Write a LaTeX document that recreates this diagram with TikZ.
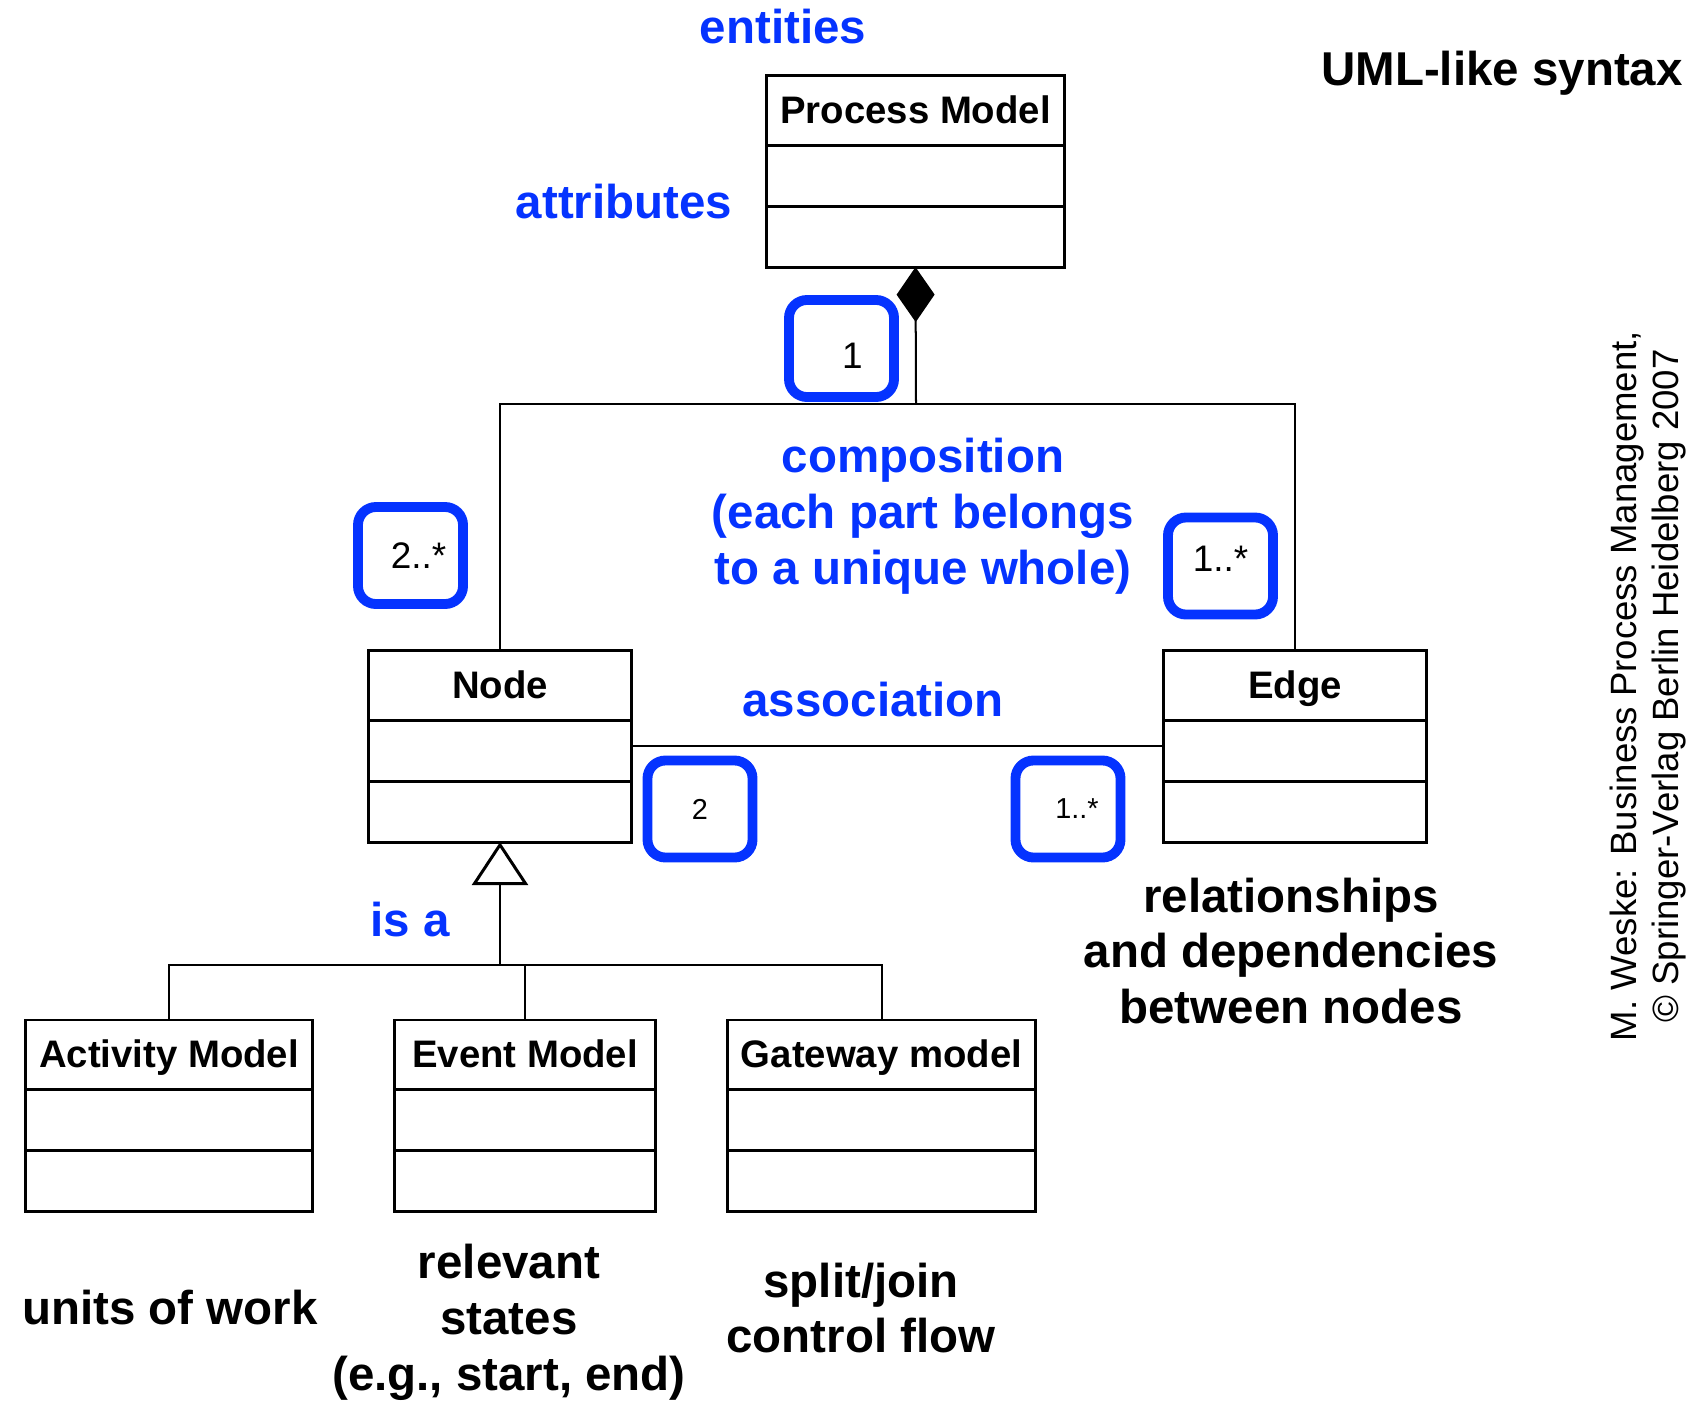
\documentclass[tikz,border=0pt]{standalone}
\usepackage{fontspec}
\setmainfont{Liberation Sans}
\usepackage{xcolor}
\usetikzlibrary{positioning,arrows.meta}
\definecolor{umlblue}{RGB}{5,51,255}

\begin{document}
\begin{tikzpicture}[
    x=0.01cm, y=-0.01cm,
    font=\fontsize{13.5}{15.9}\selectfont\bfseries,
    classtitle/.style={draw, line width=0.85pt, outer sep=0pt, inner sep=0pt, minimum height=0.69cm, text height=0.3cm, text depth=0.05cm, font=\fontsize{10.9}{13}\selectfont\bfseries},
    classpart/.style={draw, line width=0.85pt, outer sep=0pt, inner sep=0pt, minimum height=0.61cm},
    mult/.style={draw=umlblue, line width=2.8pt, rounded corners=0.18cm, minimum width=1.05cm, minimum height=0.97cm, inner sep=0pt, font=\normalfont\fontsize{10.5}{12}\selectfont},
    smallmult/.style={mult, font=\normalfont\fontsize{8.2}{10}\selectfont},
    note/.style={text=umlblue, align=center},
    comment/.style={align=center},
    link/.style={line width=0.57pt}
]
\useasboundingbox (0,0) rectangle (1694,1403);

% Process Model
\node[classtitle, minimum width=2.97cm] (pm) at (915.5,110.5) {Process Model};
\node[classpart, minimum width=2.97cm, below=0pt of pm] (pm1) {};
\node[classpart, minimum width=2.97cm, below=0pt of pm1] (pm2) {};

% Node and Edge
\node[classtitle, minimum width=2.62cm] (nd) at (500,685.5) {Node};
\node[classpart, minimum width=2.62cm, below=0pt of nd] (nd1) {};
\node[classpart, minimum width=2.62cm, below=0pt of nd1] (nd2) {};

\node[classtitle, minimum width=2.62cm] (ed) at (1295,685.5) {Edge};
\node[classpart, minimum width=2.62cm, below=0pt of ed] (ed1) {};
\node[classpart, minimum width=2.62cm, below=0pt of ed1] (ed2) {};

% subclasses of Node
\node[classtitle, minimum width=2.86cm] (am) at (169,1054.5) {Activity Model};
\node[classpart, minimum width=2.86cm, below=0pt of am] (am1) {};
\node[classpart, minimum width=2.86cm, below=0pt of am1] (am2) {};

\node[classtitle, minimum width=2.60cm] (em) at (525,1054.5) {Event Model};
\node[classpart, minimum width=2.60cm, below=0pt of em] (em1) {};
\node[classpart, minimum width=2.60cm, below=0pt of em1] (em2) {};

\node[classtitle, minimum width=3.08cm] (gm) at (881.5,1054.5) {Gateway model};
\node[classpart, minimum width=3.08cm, below=0pt of gm] (gm1) {};
\node[classpart, minimum width=3.08cm, below=0pt of gm1] (gm2) {};

% composition
\coordinate (comp) at (916,404);
\draw[link] (nd.north) |- (comp) -| (ed.north);
\draw[link, -{Diamond[length=0.55cm, width=0.38cm]}] (comp) -- (pm2.south);

% association
\draw[link] ([yshift=0.045cm]nd1.east) -- ([yshift=0.045cm]ed1.west);

% generalization
\coordinate (isa) at (500,965);
\draw[link, -{Triangle[open, length=0.43cm, width=0.56cm, line width=0.85pt]}] (isa) -- (nd2.south);
\draw[link] (am.north) |- (isa) -| (gm.north);
\draw[link] (em.north) -- (em.north |- isa);

% multiplicities
\node[mult, text height=0.4cm, text depth=0cm] (pmmult) at (841.5,348.5) {\hspace*{0.22cm}1};
\node[mult] (ndmult) at (410.5,555.5) {\hspace*{0.16cm}2..*};
\node[mult, text height=0.2cm, text depth=0.09cm] (edmult) at (1220.5,566) {1..*};
\node[smallmult] (srcmult) at (700,809) {2};
\node[smallmult] (tgtmult) at (1068,809) {\hspace*{0.18cm}1..*};

% labels
\node[note] (entities) at (783,27) {entities};
\node[note] (attributes) at (624,202) {attributes};
\node (syntax) at (1502,73) {UML-like syntax};
\node[note] (composition) at (923,516) {composition\\(each part belongs\\to a unique whole)};
\node[note] (association) at (873,700) {association};
\node[note] (isalabel) at (410,920) {is a};
\node[comment] (relnote) at (1291,951) {relationships\\and dependencies\\between nodes};
\node[comment] (amnote) at (170,1308) {units of work};
\node[comment] (emnote) at (509,1322) {relevant\\states\\(e.g., start, end)};
\node[comment] (gmnote) at (861,1308) {split/join\\control flow};
\node[rotate=90, align=center, font=\normalfont\fontsize{10.4}{12.2}\selectfont] (source) at (1648,686) {M. Weske: Business Process Management,\\© Springer-Verlag Berlin Heidelberg 2007};

\end{tikzpicture}
\end{document}
